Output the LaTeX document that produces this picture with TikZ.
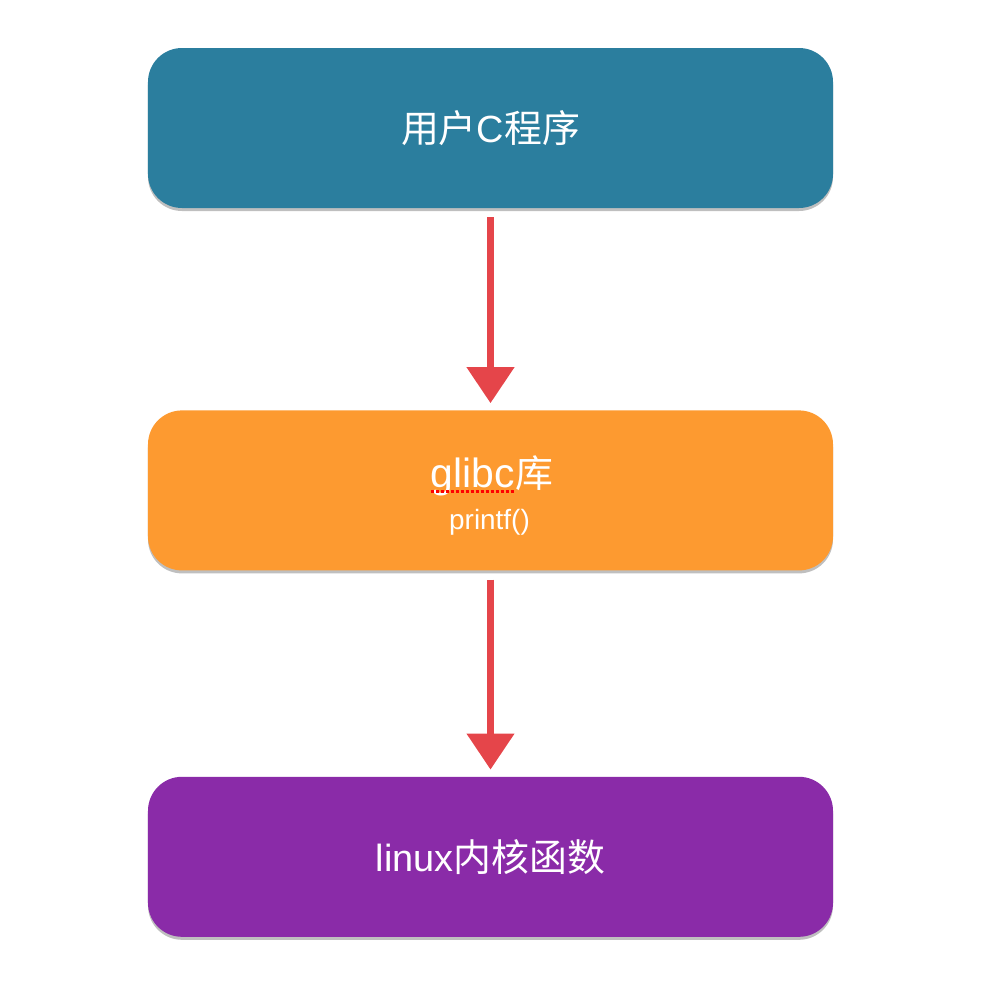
\documentclass[tikz,border=0pt]{standalone}
\usepackage{fontspec}
\setmainfont{Liberation Sans}
\newfontfamily\cjk{Noto Sans CJK SC}
\usetikzlibrary{positioning,arrows.meta,shadows}

\definecolor{userblue}{HTML}{2B7E9E}
\definecolor{liborange}{HTML}{FD9A30}
\definecolor{kernpurple}{HTML}{8A2BA8}
\definecolor{arrowred}{HTML}{E5454A}

\begin{document}
\begin{tikzpicture}[x=1bp, y=-1bp,
        layer/.style={rounded corners=34bp, minimum width=685bp, minimum height=160bp,
            text=white, font=\fontsize{38}{40}\selectfont,
            drop shadow={shadow xshift=0bp, shadow yshift=-3bp, opacity=0.25, fill=black}},
        flow/.style={draw=arrowred, line width=7.5bp, -{Triangle[width=46bp, length=36bp]},
            shorten <=9bp, shorten >=7bp},
        spellmark/.style={draw=red, line width=3bp, dash pattern=on 3bp off 2bp},
        node distance=202bp
    ]
    \useasboundingbox (0,0) rectangle (988,988);

    \node[layer, fill=userblue]   (user)   at (490.5,128)      {{\cjk 用户}C{\cjk 程序}};
    \node[layer, fill=liborange]  (lib)    [below=of user]     {};
    \node[layer, fill=kernpurple] (kernel) [below=206bp of lib] {linux{\cjk 内核函数}};

    % text of the library box
    \node[text=white, inner sep=0pt, anchor=base east,
          font=\fontsize{41}{43}\selectfont] (glibc) at (515,487) {glibc};
    \node[text=white, inner sep=0pt, anchor=base west,
          font=\fontsize{38}{40}\selectfont\cjk] (ku) at (glibc.base east) {库};
    \node[text=white, inner sep=0pt, anchor=base,
          font=\fontsize{28}{30}\selectfont] (printf) at (489.5,529) {printf()};
    \draw[spellmark] ([yshift=-4bp]glibc.base west) -- ([yshift=-4bp]glibc.base east);

    \draw[flow] (user) -- (lib);
    \draw[flow] (lib) -- (kernel);
\end{tikzpicture}
\end{document}
